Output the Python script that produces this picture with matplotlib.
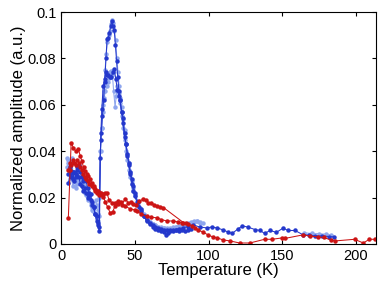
import matplotlib
matplotlib.use('Agg')
import matplotlib.pyplot as plt

# temperature sweeps, normalized amplitude (a.u.)
t_d1 = [5, 6, 7, 8, 9, 10, 11, 12, 13, 14, 15, 16, 17, 18, 19, 20, 21, 22, 23, 24, 25, 25.8,
        26.4, 27.2, 28, 28.8, 29.6, 30.4, 31.2, 32, 32.8, 33.6, 34.3, 35.1, 36, 36.8, 37.6, 38.4,
        39.2, 40, 41, 42, 43, 44, 45, 46, 47, 48, 49, 50, 51.5, 53, 54.5, 56, 58, 60, 62, 64, 66,
        68, 70, 71, 72.5, 74, 76, 78, 80, 82, 84, 86, 88]
a_d1 = [0.0265, 0.030, 0.0315, 0.028, 0.031, 0.029, 0.033, 0.034, 0.031, 0.029, 0.027, 0.0285,
        0.027, 0.024, 0.022, 0.0215, 0.018, 0.016, 0.013, 0.010, 0.008, 0.0055,
        0.037, 0.048, 0.055, 0.062, 0.070, 0.080, 0.0885, 0.089, 0.091, 0.094, 0.0963, 0.094,
        0.0925, 0.086, 0.079, 0.072, 0.066, 0.062, 0.057, 0.0545, 0.048, 0.043, 0.038, 0.034,
        0.030, 0.026, 0.023, 0.0205, 0.018, 0.016, 0.014, 0.012, 0.010, 0.0085, 0.0075, 0.0065,
        0.006, 0.0055, 0.005, 0.004, 0.0045, 0.0055, 0.0055, 0.006, 0.0055, 0.006, 0.0055,
        0.006, 0.0065]

t_d2 = [5, 6, 7, 8, 9, 10, 11, 12, 13, 14, 15, 16, 17, 18, 19, 20, 21, 22, 23, 24, 25, 26,
        26.8, 27.6, 28.5, 29.5, 30.5, 31.3, 32.1, 33, 33.9, 35, 36.1, 37.1, 38.2, 39.1, 40, 41,
        42, 43, 44, 45, 46, 47, 48, 49, 50, 52, 54, 56, 58, 60, 62, 64, 66, 68, 70, 72, 74, 76,
        78, 80, 83, 86, 89.7, 94, 99, 102, 106, 110, 113, 116, 120, 123, 127, 131.5, 135, 138,
        141.7, 146, 150.5, 154, 158.6, 164, 168, 172, 177, 182, 185]
a_d2 = [0.030, 0.033, 0.029, 0.031, 0.027, 0.030, 0.032, 0.029, 0.026, 0.025, 0.023, 0.024,
        0.022, 0.020, 0.021, 0.019, 0.017, 0.016, 0.013, 0.012, 0.009, 0.0075,
        0.045, 0.058, 0.068, 0.071, 0.0743, 0.073, 0.0728, 0.072, 0.0718, 0.074, 0.0753, 0.071,
        0.0664, 0.064, 0.062, 0.057, 0.052, 0.046, 0.043, 0.039, 0.035, 0.031, 0.028, 0.025,
        0.022, 0.018, 0.015, 0.012, 0.0105, 0.009, 0.008, 0.0075, 0.007, 0.0065, 0.006, 0.006,
        0.0058, 0.006, 0.0062, 0.0065, 0.007, 0.0075, 0.0082, 0.0073, 0.0069, 0.0073, 0.0069,
        0.006, 0.0052, 0.0045, 0.0065, 0.0078, 0.0072, 0.0062, 0.0058, 0.0045, 0.0058, 0.005,
        0.0068, 0.0058, 0.0058, 0.004, 0.0038, 0.0035, 0.0034, 0.0032, 0.003]

t_l1 = [3.8, 5, 6, 7.2, 8, 9.5, 10.5, 12, 13, 14, 15, 16, 17, 18, 19, 20, 20.8, 21.8, 22.6,
        23.4, 24.2, 25, 25.8, 26.6, 27.4, 28.2, 29, 29.8, 30.6, 31.4, 32.2, 33, 33.8, 34.6, 35.4,
        36.2, 37, 37.8, 38.6, 39.4, 40.2, 41, 42, 43, 44, 45, 46, 47, 48, 49, 50, 52, 54, 56, 58,
        60, 62, 64, 66, 68, 70, 72, 74, 76, 78, 80, 82, 84, 86, 88, 90, 92, 94]
a_l1 = [0.037, 0.036, 0.034, 0.037, 0.031, 0.0285, 0.027, 0.029, 0.028, 0.027, 0.026, 0.025,
        0.024, 0.023, 0.021, 0.018, 0.0147, 0.014, 0.016, 0.019, 0.017, 0.013, 0.012,
        0.040, 0.050, 0.060, 0.066, 0.075, 0.082, 0.087, 0.090, 0.092, 0.095, 0.0965, 0.0955,
        0.092, 0.088, 0.080, 0.074, 0.068, 0.063, 0.059, 0.054, 0.049, 0.043, 0.039, 0.035,
        0.031, 0.027, 0.024, 0.021, 0.0185, 0.015, 0.013, 0.011, 0.0095, 0.0085, 0.008, 0.0075,
        0.007, 0.0068, 0.0065, 0.0065, 0.007, 0.0072, 0.0075, 0.008, 0.0085, 0.009, 0.0095,
        0.010, 0.0098, 0.009]

t_l2 = [4, 5, 6, 7, 8, 9, 10, 11, 12, 13, 14, 15, 16, 17, 18, 19, 20, 21, 22, 23, 24, 25, 26,
        26.8, 27.6, 28.4, 29.2, 30, 30.8, 31.6, 32.4, 33.2, 34, 34.8, 35.6, 36.6, 37.4, 38.2, 39,
        40, 41, 42, 43, 44, 45, 46, 47, 48, 49, 50, 52, 54, 56, 58, 60, 62, 64, 66, 68, 70, 72,
        74, 76, 78, 80, 82, 84, 86, 88, 90, 92, 94, 96]
a_l2 = [0.033, 0.035, 0.031, 0.028, 0.025, 0.027, 0.024, 0.026, 0.029, 0.027, 0.025, 0.024,
        0.022, 0.021, 0.019, 0.020, 0.017, 0.016, 0.0145, 0.013, 0.011, 0.010, 0.020,
        0.040, 0.050, 0.057, 0.063, 0.066, 0.068, 0.070, 0.0715, 0.074, 0.0745, 0.073, 0.066,
        0.059, 0.064, 0.068, 0.065, 0.061, 0.055, 0.050, 0.045, 0.040, 0.036, 0.032, 0.029,
        0.026, 0.023, 0.021, 0.017, 0.014, 0.012, 0.0105, 0.0095, 0.0085, 0.008, 0.0075,
        0.0072, 0.007, 0.0068, 0.007, 0.0072, 0.0075, 0.0078, 0.008, 0.0082, 0.0085, 0.009,
        0.0095, 0.010, 0.0095, 0.009]

t_l3 = [165, 170, 175, 180, 183]
a_l3 = [0.0048, 0.0045, 0.0044, 0.0042, 0.004]

t_r1 = [4.9, 6.1, 6.8, 8.3, 10, 11.7, 13, 14, 15.2, 16.3, 17.4, 18.5, 19.6, 20.8, 22, 23, 24.5,
        26.4, 27.5, 28.7, 30, 31, 32.5, 34.4, 36.6, 38.8, 41, 43.4, 45.6, 47.5, 49, 51, 53, 55.8,
        57.5, 59, 61, 63, 64.9, 67, 69.4, 83, 86, 89, 91, 93, 96, 99.6, 103, 106, 110, 114.6,
        121, 128, 138, 143, 150, 152, 164, 169, 174, 178, 183, 186, 199, 205, 209, 213]
a_r1 = [0.0113, 0.032, 0.0437, 0.0415, 0.040, 0.0408, 0.038, 0.0358, 0.033, 0.0315, 0.030,
        0.0293, 0.028, 0.0264, 0.025, 0.0237, 0.023, 0.0221, 0.021, 0.0214, 0.022, 0.0221,
        0.019, 0.0178, 0.0178, 0.0185, 0.017, 0.0193, 0.0178, 0.018, 0.0171, 0.017, 0.0185,
        0.0193, 0.019, 0.0178, 0.0175, 0.017, 0.0164, 0.016, 0.0157, 0.0092, 0.0085, 0.0078,
        0.007, 0.006, 0.0052, 0.0039, 0.003, 0.0026, 0.0017, 0.0013, 0.0004, 0.0004, 0.002,
        0.002, 0.0026, 0.0024, 0.0039, 0.0034, 0.003, 0.0028, 0.0017, 0.0013, 0.002, 0.0004,
        0.002, 0.002]

t_r2 = [5, 6, 7, 8, 9, 10, 11, 12, 13, 14, 15, 16, 17, 18, 19, 20, 21, 22, 23, 24, 25, 26, 27,
        28.7, 30, 31.5, 33.2, 35, 36.6, 38.6, 40.7, 43.4, 46.8, 50, 51.3, 54, 58, 61, 65, 68,
        71.7, 76, 79, 82, 85]
a_r2 = [0.032, 0.035, 0.034, 0.036, 0.035, 0.034, 0.036, 0.035, 0.033, 0.032, 0.030, 0.029,
        0.028, 0.027, 0.026, 0.026, 0.025, 0.024, 0.023, 0.022, 0.023, 0.021, 0.022, 0.0204,
        0.018, 0.016, 0.0135, 0.0139, 0.0164, 0.0172, 0.018, 0.0164, 0.0151, 0.0147, 0.0142,
        0.013, 0.012, 0.0115, 0.0113, 0.0105, 0.0099, 0.0099, 0.0095, 0.0092, 0.009]

y_ticks = [0, 0.02, 0.04, 0.06, 0.08, 0.1]
y_labels = ['0', '0.02', '0.04', '0.06', '0.08', '0.1']
x_ticks = [0, 50, 100, 150, 200]

plt.rcParams['font.family'] = ['Liberation Sans', 'DejaVu Sans']
fig = plt.figure(figsize=(3.82, 2.82), dpi=100)
ax = fig.add_axes([0.16, 0.135, 0.824, 0.822])

light = '#8ea6ee'
dark = '#2438cc'
red = '#cc1414'
kw = dict(marker='o', markersize=2.2, linewidth=0.75)
for t, a in [(t_l1, a_l1), (t_l2, a_l2), (t_l3, a_l3)]:
    ax.plot(t, a, color=light, **kw)
for t, a in [(t_d1, a_d1), (t_d2, a_d2)]:
    ax.plot(t, a, color=dark, **kw)
for t, a in [(t_r2, a_r2), (t_r1, a_r1)]:
    ax.plot(t, a, color=red, **kw)

ax.set_xlim(0, 213.5)
ax.set_ylim(0, 0.1)
ax.set_xticks(x_ticks)
ax.set_yticks(y_ticks)
ax.set_yticklabels(y_labels)
ax.tick_params(direction='in', top=True, right=True, labelsize=10.5, length=3, width=0.8)
ax.set_xlabel('Temperature (K)', fontsize=12, labelpad=0)
ax.set_ylabel('Normalized amplitude (a.u.)', fontsize=12, labelpad=1)
for s in ax.spines.values():
    s.set_linewidth(0.8)

fig.savefig('out.png', dpi=100)
